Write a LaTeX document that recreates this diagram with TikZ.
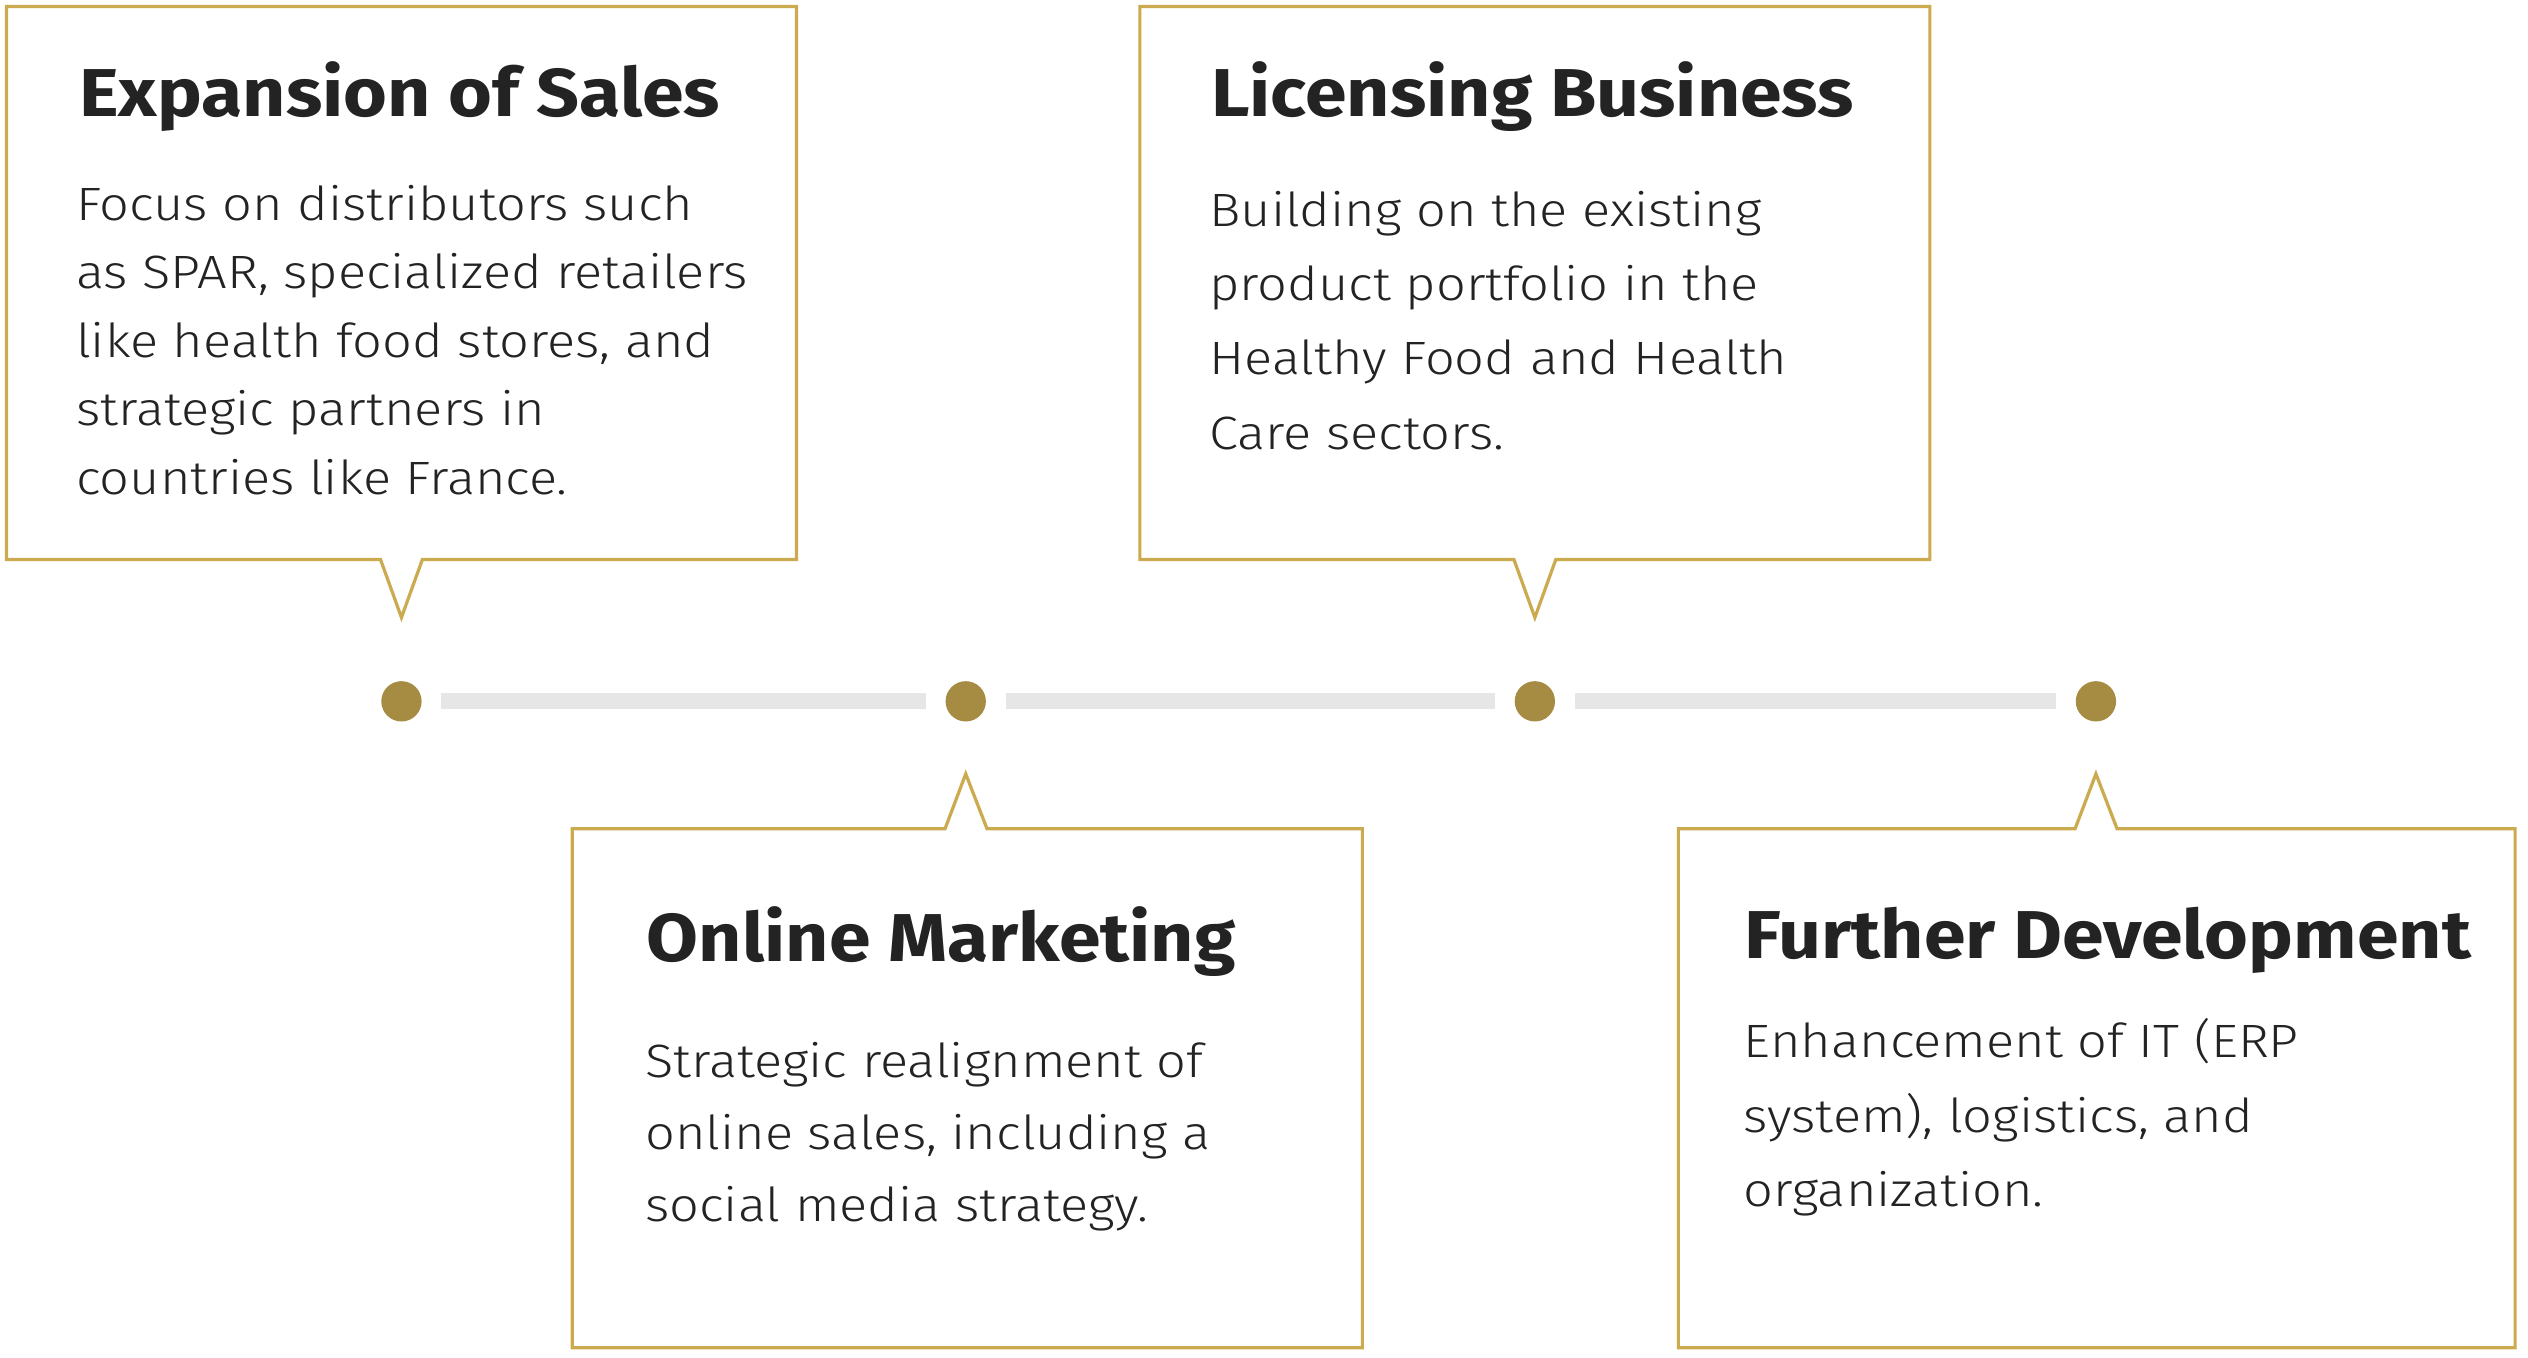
\documentclass[tikz,border=0pt]{standalone}
\usepackage{fontspec}
\setmainfont{Fira Sans Light}[FakeStretch=1.12]
\newfontfamily\headfont{Fira Sans Bold}[FakeStretch=1.11]
\usepackage{xcolor}
\usetikzlibrary{shapes.callouts,positioning,calc}
\definecolor{gold}{HTML}{CCAA4F}
\definecolor{olive}{HTML}{A68B42}
\definecolor{track}{HTML}{E6E6E6}
\definecolor{ink}{HTML}{232323}

\begin{document}
\begin{tikzpicture}[
  x=1pt, y=1pt,
  node distance=350pt, on grid,
  dot/.style={circle, fill=olive, minimum size=25pt, inner sep=0pt},
  bar/.style={draw=track, line width=10pt, shorten <=12pt, shorten >=12pt},
  card/.style={rectangle callout, draw=gold, line width=2pt, fill=white, inner sep=0pt, outer sep=0pt, callout pointer width=26pt},
  topcard/.style={card, minimum width=490pt, minimum height=343pt},
  lowcard/.style={card, minimum height=322pt},
  head/.style={anchor=base west, inner sep=0pt, text=ink, font=\headfont\fontsize{42}{48}\selectfont},
  body/.style={anchor=base west, inner sep=0pt, align=left, text=ink},
]
  \useasboundingbox[fill=white] (0,0) rectangle (1568,-842);

  % timeline
  \node[dot] (d1) at (249,-435) {};
  \node[dot, right=350pt of d1] (d2) {};
  \node[dot, right=353pt of d2] (d3) {};
  \node[dot, right=348pt of d3] (d4) {};
  \draw[bar] (d1) -- (d2);
  \draw[bar] (d2) -- (d3);
  \draw[bar] (d3) -- (d4);

  \coordinate (t1) at ($(d1)+(0,52)$);
  \coordinate (t2) at ($(d2)+(0,-45)$);
  \coordinate (t3) at ($(d3)+(0,52)$);
  \coordinate (t4) at ($(d4)+(0,-45)$);

  % callouts
  \node[topcard, callout absolute pointer=(t1)] (sales) at (249,-175.5) {};
  \node[lowcard, minimum width=490pt, callout absolute pointer=(t2)] (online) at (600,-675) {};
  \node[topcard, callout absolute pointer=(t3)] (licence) at (952,-175.5) {};
  \node[lowcard, minimum width=519pt, callout absolute pointer=(t4)] (further) at (1300.5,-675) {};

  % texts (body nodes sit on their last line)
  \node[head] (salesH) at ($(sales.north west)+(45,-68)$) {Expansion of Sales};
  \node[body, font=\fontsize{29}{42.5}\selectfont] (salesB) at ($(sales.north west)+(43,-302.7)$)
    {Focus on distributors such\\as SPAR, specialized retailers\\like health food stores, and\\strategic partners in\\countries like France.};

  \node[head] (licenceH) at ($(licence.north west)+(44,-68)$) {Licensing Business};
  \node[body, font=\fontsize{29}{46}\selectfont] (licenceB) at ($(licence.north west)+(43,-274.5)$)
    {Building on the existing\\product portfolio in the\\Healthy Food and Health\\Care sectors.};

  \node[head] (onlineH) at ($(online.north west)+(46,-82.6)$) {Online Marketing};
  \node[body, font=\fontsize{29}{44.5}\selectfont] (onlineB) at ($(online.north west)+(45,-243.5)$)
    {Strategic realignment of\\online sales, including a\\social media strategy.};

  \node[head] (furtherH) at ($(further.north west)+(41,-80.2)$) {Further Development};
  \node[body, font=\fontsize{29}{46}\selectfont] (furtherB) at ($(further.north west)+(40.5,-234.2)$)
    {Enhancement of IT (ERP\\system), logistics, and\\organization.};
\end{tikzpicture}
\end{document}
